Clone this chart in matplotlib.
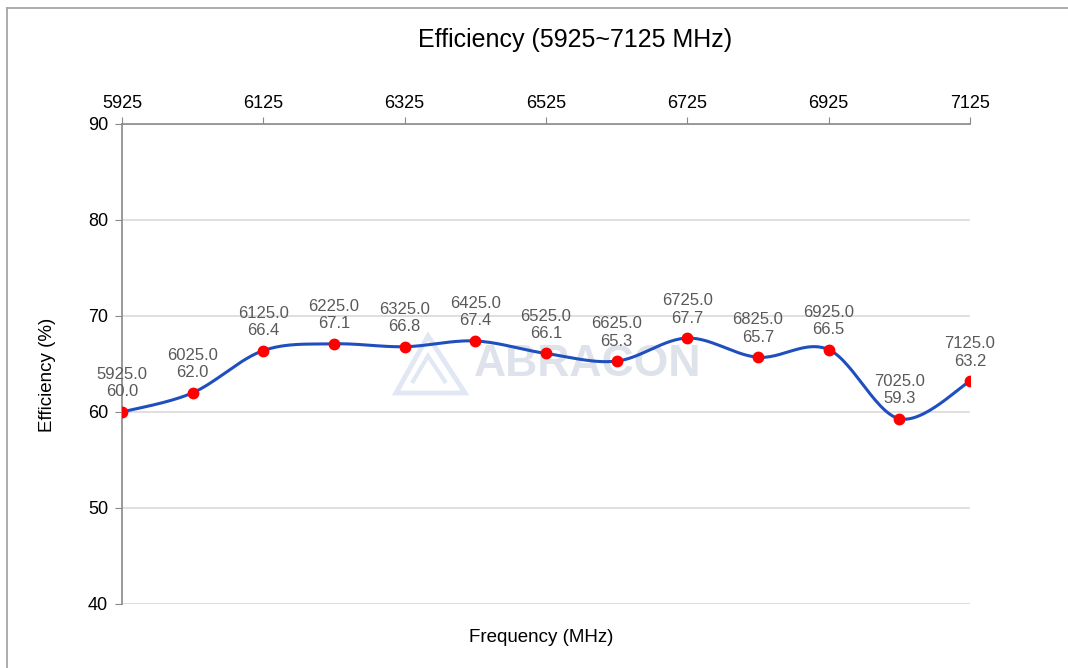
import numpy as np
import matplotlib
matplotlib.use("Agg")
import matplotlib.pyplot as plt
from matplotlib.patches import Polygon

freq = [5925, 6025, 6125, 6225, 6325, 6425, 6525, 6625, 6725, 6825, 6925, 7025, 7125]
eff = [60.0, 62.0, 66.4, 67.1, 66.8, 67.4, 66.1, 65.3, 67.7, 65.7, 66.5, 59.3, 63.2]
xticks = [5925, 6125, 6325, 6525, 6725, 6925, 7125]
yticks = [40, 50, 60, 70, 80, 90]


def smooth(x, y, n=30):
    x = np.asarray(x, float); y = np.asarray(y, float)
    px = np.concatenate([[x[0]], x, [x[-1]]])
    py = np.concatenate([[y[0]], y, [y[-1]]])
    ox, oy = [], []
    t = np.linspace(0, 1, n)
    for i in range(1, len(px) - 2):
        p0 = np.array([px[i], py[i]]); p3 = np.array([px[i + 1], py[i + 1]])
        p1 = p0 + (np.array([px[i + 1], py[i + 1]]) - np.array([px[i - 1], py[i - 1]])) / 6
        p2 = p3 - (np.array([px[i + 2], py[i + 2]]) - np.array([px[i], py[i]])) / 6
        b = ((1 - t) ** 3)[:, None] * p0 + (3 * (1 - t) ** 2 * t)[:, None] * p1 + \
            (3 * (1 - t) * t ** 2)[:, None] * p2 + (t ** 3)[:, None] * p3
        ox.extend(b[:, 0]); oy.extend(b[:, 1])
    return np.array(ox), np.array(oy)


W, H = 1068, 668
plt.rcParams['font.family'] = ['Liberation Sans', 'DejaVu Sans']
fig = plt.figure(figsize=(W / 100, H / 100), dpi=100)
L, R, T, B = 122, 970, 124, 604
ax = fig.add_axes([L / W, 1 - B / H, (R - L) / W, (B - T) / H])


def af(px, py):
    return ((px - L) / (R - L), (B - py) / (B - T))


# figure border (left and top)
fig.add_artist(plt.Line2D([7 / W, 7 / W], [0, 1 - 8 / H], transform=fig.transFigure,
                          color='#a6a6a6', lw=1.3))
fig.add_artist(plt.Line2D([7 / W, 1], [1 - 8 / H, 1 - 8 / H], transform=fig.transFigure,
                          color='#a6a6a6', lw=1.3))

ax.set_xlim(5925, 7125)
ax.set_ylim(40, 90)

# watermark
tx, ty = af(588, 364)
ax.text(tx, ty, 'ABRACON', transform=ax.transAxes, fontsize=32, fontweight='bold',
        color='#dee2eb', ha='center', va='center', zorder=0)
outer = [af(396, 393), af(428, 336), af(465, 393)]
ax.add_patch(Polygon(outer, closed=True, transform=ax.transAxes, fill=False,
                     edgecolor='#e1e8f4', lw=3.5, joinstyle='miter', zorder=0))
inner = [af(412, 383), af(428, 356), af(446, 383)]
ax.add_patch(Polygon(inner, closed=False, transform=ax.transAxes, fill=False,
                     edgecolor='#e1e8f4', lw=3, zorder=0))

sx, sy = smooth(freq, eff)
ax.plot(sx, sy, color='#1f4fbf', lw=2.2, zorder=3)
ax.plot(freq, eff, 'o', color='#ff0000', ms=7.5, zorder=4)

for x, y in zip(freq, eff):
    ax.annotate(f'{x:.1f}\n{y:.1f}', (x, y), xytext=(0, 9), textcoords='offset points',
                ha='center', va='bottom', fontsize=12, color='#595959', linespacing=1.2, zorder=5)

ax.set_yticks(yticks)
ax.set_xticks(xticks)
ax.xaxis.tick_top()
ax.tick_params(axis='x', which='both', top=True, bottom=False, direction='out', length=5,
               color='#898989', labelsize=13, labelcolor='#000000', pad=4)
ax.tick_params(axis='y', direction='out', length=5, color='#898989', labelsize=13,
               labelcolor='#000000', pad=5)
ax.grid(axis='y', color='#d9d9d9', lw=1.2, zorder=0)
ax.set_axisbelow(True)
for s in ['right', 'bottom']:
    ax.spines[s].set_visible(False)
ax.spines['top'].set_color('#898989')
ax.spines['left'].set_color('#898989')
ax.spines['top'].set_linewidth(1.2)
ax.spines['left'].set_linewidth(1.2)

fig.text(48 / W, 1 - 375 / H, 'Efficiency (%)', ha='center', va='center', rotation=90, fontsize=13.5)
fig.text(541 / W, 1 - 637 / H, 'Frequency (MHz)', ha='center', va='center', fontsize=13.5)
fig.text(575 / W, 1 - 40 / H, 'Efficiency (5925~7125 MHz)', ha='center', va='center', fontsize=18)

fig.savefig('out.png', dpi=100)
